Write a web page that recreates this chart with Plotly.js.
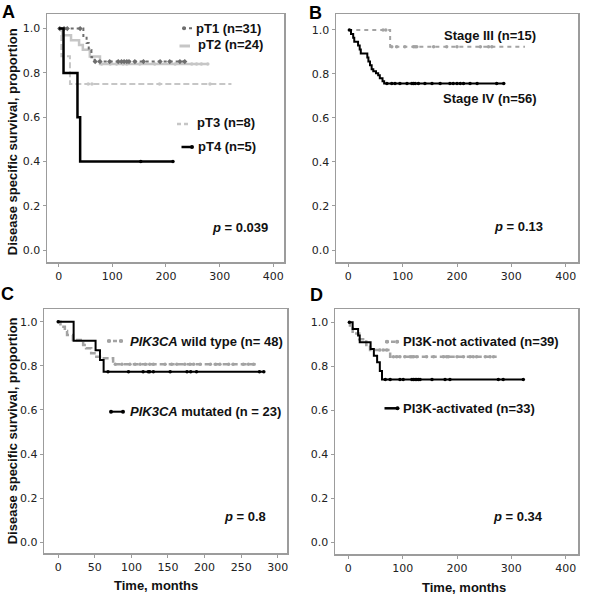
<!DOCTYPE html>
<html>
<head>
<meta charset="utf-8">
<script src="https://cdn.plot.ly/plotly-3.0.1.min.js"></script>
<style>
html,body{margin:0;padding:0;background:#fff;}
#chart{width:600px;height:595px;}
</style>
</head>
<body>
<div id="chart"></div>
<script>
// ---------------- DATA ----------------
// Panel A: pT stage
const pT1_events = [46, 52, 56, 61, 67];
const pT1_surv   = [0.967, 0.935, 0.903, 0.871, 0.851];
const pT1_end    = 235;
const pT1_cens   = [2, 10, 16, 40, 68, 77, 95, 111, 117, 122, 127, 131, 142, 158, 189, 207, 226, 235];

const pT2_events = [7, 23, 38, 45, 58, 77];
const pT2_surv   = [0.97, 0.948, 0.926, 0.904, 0.874, 0.84];
const pT2_end    = 278;
const pT2_cens   = [80, 96, 108, 120, 127, 151, 179, 217, 248, 257, 266, 278];

const pT3_events = [5, 21];
const pT3_surv   = [0.875, 0.75];
const pT3_end    = 322;
const pT3_cens   = [55, 62, 188, 282];

const pT4_events = [9, 35, 40];
const pT4_surv   = [0.8, 0.6, 0.4];
const pT4_end    = 213;
const pT4_cens   = [153, 213];

// Panel B: stage
const st3_events = [77];
const st3_surv   = [0.923];
const st3_end    = 325;
const st3_cens   = [64, 69, 80, 89, 104, 120, 123, 126, 157, 181, 200, 243, 258, 264];

const st4_events = [5, 9, 11, 18, 21, 23, 35, 37, 40, 43, 46, 51, 55, 58, 63, 66];
const st4_surv   = [0.982, 0.964, 0.946, 0.929, 0.911, 0.893, 0.875, 0.857, 0.839, 0.821, 0.812, 0.803, 0.794, 0.78, 0.767, 0.757];
const st4_end    = 286;
const st4_cens   = [2, 71, 80, 86, 95, 108, 117, 120, 123, 129, 141, 154, 169, 187, 193, 200, 206, 212, 224, 237, 273, 286];

// Panel C: PIK3CA
const wt_events = [3, 9, 12, 20, 34, 38, 45, 52, 59, 75];
const wt_surv   = [0.977, 0.958, 0.94, 0.917, 0.894, 0.879, 0.857, 0.841, 0.834, 0.807];
const wt_end    = 271;
const wt_cens   = [0, 78, 87, 98, 105, 112, 119, 125, 130, 146, 155, 162, 173, 180, 185, 194, 208, 215, 221, 233, 239, 253, 260, 267];

const mut_events = [21, 51, 57, 62];
const mut_surv   = [0.913, 0.87, 0.826, 0.773];
const mut_end    = 281;
const mut_cens   = [0, 68, 96, 116, 123, 125, 130, 153, 176, 181, 189, 275, 281];

// Panel D: PI3K activation
const na_events = [3, 8, 20, 33, 40, 77];
const na_surv   = [0.974, 0.949, 0.923, 0.897, 0.874, 0.843];
const na_end    = 273;
const na_cens   = [58, 64, 71, 83, 89, 95, 104, 114, 117, 120, 126, 144, 157, 175, 181, 184, 200, 212, 224, 230, 236, 252, 261, 267];

const act_events = [8, 18, 21, 41, 47, 53, 58, 62];
const act_surv   = [0.97, 0.94, 0.909, 0.879, 0.848, 0.818, 0.779, 0.74];
const act_end    = 322;
const act_cens   = [2, 68, 77, 95, 101, 117, 120, 123, 126, 129, 132, 154, 178, 187, 276, 285, 322];

const ticksA = [0, 100, 200, 300, 400];
const ticksC = [0, 50, 100, 150, 200, 250, 300];
const ticksY = [0, 0.2, 0.4, 0.6, 0.8, 1.0];

// ---------------- helpers ----------------
function survAt(events, surv, t) {
  let s = 1;
  for (let i = 0; i < events.length; i++) if (events[i] <= t) s = surv[i];
  return s;
}
function kmTraces(events, surv, end, cens, ax, line, marker) {
  const x = [0].concat(events, [end]);
  const y = [1].concat(surv, [surv[surv.length - 1]]);
  return [
    {type: 'scatter', mode: 'lines', x: x, y: y, xaxis: ax[0], yaxis: ax[1],
     line: Object.assign({shape: 'hv'}, line), hoverinfo: 'skip', showlegend: false},
    {type: 'scatter', mode: 'markers', x: cens, y: cens.map(t => survAt(events, surv, t)),
     xaxis: ax[0], yaxis: ax[1], marker: marker, hoverinfo: 'skip', showlegend: false}
  ];
}

const cDark = '#6e6e6e', cLight = '#c6c6c6', cMid = '#a3a3a3', cBlack = '#000000';

let traces = [];
traces = traces.concat(kmTraces(pT3_events, pT3_surv, pT3_end, pT3_cens, ['x', 'y'],
  {color: cLight, width: 2, dash: '6px,3px'}, {color: cLight, size: 3.5, symbol: 'circle'}));
traces = traces.concat(kmTraces(pT2_events, pT2_surv, pT2_end, pT2_cens, ['x', 'y'],
  {color: cLight, width: 2.5}, {color: cLight, size: 3.5, symbol: 'circle'}));
traces = traces.concat(kmTraces(pT1_events, pT1_surv, pT1_end, pT1_cens, ['x', 'y'],
  {color: cDark, width: 2, dash: 'dot'}, {color: cDark, size: 4, symbol: 'diamond'}));
traces = traces.concat(kmTraces(pT4_events, pT4_surv, pT4_end, pT4_cens, ['x', 'y'],
  {color: cBlack, width: 2.5}, {color: cBlack, size: 3.5, symbol: 'circle'}));

traces = traces.concat(kmTraces(st3_events, st3_surv, st3_end, st3_cens, ['x2', 'y2'],
  {color: cMid, width: 2, dash: '4px,4px'}, {color: cMid, size: 3.5, symbol: 'circle'}));
traces = traces.concat(kmTraces(st4_events, st4_surv, st4_end, st4_cens, ['x2', 'y2'],
  {color: cBlack, width: 2}, {color: cBlack, size: 3.5, symbol: 'circle'}));

traces = traces.concat(kmTraces(wt_events, wt_surv, wt_end, wt_cens, ['x3', 'y3'],
  {color: cMid, width: 2.5, dash: '6px,3px'}, {color: cMid, size: 3.5, symbol: 'circle'}));
traces = traces.concat(kmTraces(mut_events, mut_surv, mut_end, mut_cens, ['x3', 'y3'],
  {color: cBlack, width: 2}, {color: cBlack, size: 3.5, symbol: 'circle'}));

traces = traces.concat(kmTraces(na_events, na_surv, na_end, na_cens, ['x4', 'y4'],
  {color: cMid, width: 2.5, dash: '6px,3px'}, {color: cMid, size: 3.5, symbol: 'circle'}));
traces = traces.concat(kmTraces(act_events, act_surv, act_end, act_cens, ['x4', 'y4'],
  {color: cBlack, width: 2}, {color: cBlack, size: 3.5, symbol: 'circle'}));

// ---------------- layout ----------------
const W = 600, H = 595;
const X = px => px / W;
const Y = py => 1 - py / H;

function xAxis(domain, range, ticks, anchor) {
  return {domain: domain, range: range, tickvals: ticks, ticktext: ticks.map(String),
    anchor: anchor, showline: true, mirror: true, linecolor: '#9c9c9c', linewidth: 1.5,
    ticks: 'outside', ticklen: 3, tickcolor: '#9c9c9c', showgrid: false, zeroline: false,
    tickfont: {family: 'DejaVu Sans', size: 11, color: '#222'}, fixedrange: true};
}
function yAxis(domain, range, anchor) {
  return {domain: domain, range: range, tickvals: ticksY, tickformat: '.1f',
    anchor: anchor, showline: true, mirror: true, linecolor: '#9c9c9c', linewidth: 1.5,
    ticks: 'outside', ticklen: 3, tickcolor: '#9c9c9c', showgrid: false, zeroline: false,
    tickfont: {family: 'DejaVu Sans', size: 11, color: '#222'}, fixedrange: true};
}

const F = 'Liberation Sans, Arial, sans-serif';
function lab(text, xpx, ypx, opts) {
  return Object.assign({text: text, x: X(xpx), y: Y(ypx), xref: 'paper', yref: 'paper',
    xanchor: 'left', yanchor: 'middle', showarrow: false,
    font: {family: F, size: 13, color: '#111'}}, opts || {});
}

const annotations = [
  // panel letters
  lab('<b>A</b>', 8.5, 11.5, {xanchor: 'center', font: {family: F, size: 18, color: '#000'}}),
  lab('<b>B</b>', 315.5, 12.5, {xanchor: 'center', font: {family: F, size: 18, color: '#000'}}),
  lab('<b>C</b>', 7.5, 293.5, {xanchor: 'center', font: {family: F, size: 18, color: '#000'}}),
  lab('<b>D</b>', 316.5, 295, {xanchor: 'center', font: {family: F, size: 18, color: '#000'}}),
  // axis titles
  lab('<b>Disease specific survival, proportion</b>', 12.5, 141.7, {xanchor: 'center', textangle: -90}),
  lab('<b>Disease specific survival, proportion</b>', 12.5, 430.8, {xanchor: 'center', textangle: -90}),
  lab('<b>Time, months</b>', 155.8, 585.7, {xanchor: 'center'}),
  lab('<b>Time, months</b>', 463.8, 587.5, {xanchor: 'center'}),
  // Panel A
  lab('<b>pT1 (n=31)</b>', 194, 28.3),
  lab('<b>pT2 (n=24)</b>', 196, 45),
  lab('<b>pT3 (n=8)</b>', 195, 123),
  lab('<b>pT4 (n=5)</b>', 196, 146),
  lab('<b><i>p</i> = 0.039</b>', 210, 228),
  // Panel B
  lab('<b>Stage III (n=15)</b>', 442, 35),
  lab('<b>Stage IV (n=56)</b>', 441, 98.3),
  lab('<b><i>p</i> = 0.13</b>', 492, 226.7),
  // Panel C
  lab('<b><i>PIK3CA</i> wild type (n= 48)</b>', 127.5, 341),
  lab('<b><i>PIK3CA</i> mutated (n = 23)</b>', 127.5, 411.7),
  lab('<b><i>p</i> = 0.8</b>', 222, 516.7),
  // Panel D
  lab('<b>PI3K-not activated (n=39)</b>', 401, 341.7),
  lab('<b>PI3K-activated (n=33)</b>', 401, 408.3),
  lab('<b><i>p</i> = 0.34</b>', 491, 516.7)
];

function seg(x0, x1, ypx, color, width, dash) {
  return {type: 'line', xref: 'paper', yref: 'paper', x0: X(x0), x1: X(x1), y0: Y(ypx), y1: Y(ypx),
    line: {color: color, width: width, dash: dash || 'solid'}};
}
function dot(xpx, ypx, color, r) {
  return {type: 'circle', xref: 'paper', yref: 'paper', x0: X(xpx - r), x1: X(xpx + r),
    y0: Y(ypx + r), y1: Y(ypx - r), fillcolor: color, line: {color: color, width: 0}};
}
const shapes = [
  // legend samples A
  seg(183, 193, 28.3, cDark, 2, 'dot'), dot(184, 28.3, cDark, 2),
  seg(179.5, 190, 46, cLight, 3),
  seg(177, 190, 124, cLight, 2.5, '4px,3px'),
  seg(181.5, 192, 147, cBlack, 2.5), dot(192, 147, cBlack, 2),
  // legend samples C
  seg(107, 123, 341, cMid, 2.5, '4px,2px'), dot(109, 341, cMid, 2), dot(121, 341, cMid, 2),
  seg(110, 124, 411.7, cBlack, 2), dot(111, 411.7, cBlack, 2), dot(123, 411.7, cBlack, 2),
  // legend samples D
  seg(385, 399, 341.7, cMid, 2.5, '4px,2px'), dot(387, 341.7, cMid, 2), dot(397, 341.7, cMid, 2),
  seg(384.5, 398, 408.3, cBlack, 2.5), dot(397.5, 408.3, cBlack, 2)
];

const layout = {
  width: W, height: H,
  margin: {l: 0, r: 0, t: 0, b: 0},
  paper_bgcolor: '#fff', plot_bgcolor: '#fff',
  showlegend: false,
  xaxis:  xAxis([X(47), X(284)], [-21.8, 420], ticksA, 'y'),
  yaxis:  yAxis([Y(262), Y(14)], [-0.054, 1.066], 'x'),
  xaxis2: xAxis([X(336), X(578)], [-22.6, 422.6], ticksA, 'y2'),
  yaxis2: yAxis([Y(262), Y(14.3)], [-0.0545, 1.071], 'x2'),
  xaxis3: xAxis([X(44.3), X(287.3)], [-19.1, 313.1], ticksC, 'y3'),
  yaxis3: yAxis([Y(553.3), Y(309.3)], [-0.05, 1.056], 'x3'),
  xaxis4: xAxis([X(335), X(578.3)], [-24.5, 423.2], ticksA, 'y4'),
  yaxis4: yAxis([Y(554), Y(309.3)], [-0.053, 1.059], 'x4'),
  annotations: annotations,
  shapes: shapes
};

Plotly.newPlot('chart', traces, layout, {staticPlot: true, displayModeBar: false});
</script>
</body>
</html>
